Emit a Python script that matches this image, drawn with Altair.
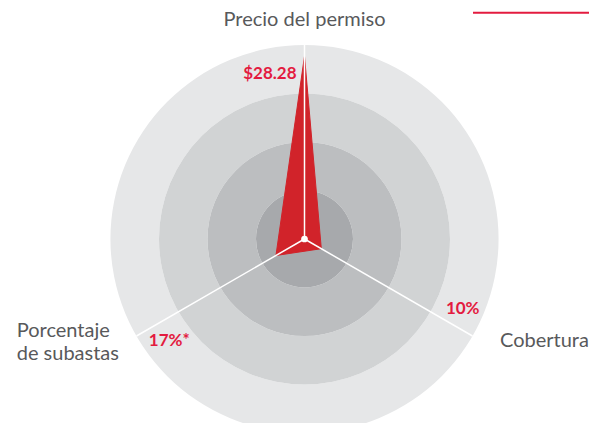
import math
import altair as alt
import pandas as pd

# ---- data ----
axes_names = ["Precio del permiso", "Cobertura", "Porcentaje de subastas"]
axis_angles = [0, 120, 240]
values = [28.28, 10, 17]
value_max = [30, 100, 100]
value_labels = ["$28.28", "10%", "17%*"]
rings = [4, 3, 2, 1]
ring_colors = ["#e6e7e8", "#d1d3d4", "#bcbec0", "#a7a9ac"]
header_text = "SCE DE 3"

# ---- layout ----
R_PX = 48.5
W, H = 581, 415
CX, CY = 296.5, 231
RED = "#e31b3f"
POLY = "#d1232a"
GRAY = "#58595b"
FONT = "Lato"

xs = alt.Scale(domain=[-CX / R_PX, (W - CX) / R_PX], nice=False, zero=False)
ys = alt.Scale(domain=[-(H - CY) / R_PX, CY / R_PX], nice=False, zero=False)
rs = alt.Scale(type="linear", domain=[0, 4], range=[0, 4 * R_PX], zero=True)

ax_df = pd.DataFrame({
    "axis": axes_names, "angle": axis_angles, "value": values,
    "vmax": value_max, "label": value_labels, "idx": [0, 1, 2],
})
ring_df = pd.DataFrame({"ring": rings, "color": ring_colors})

X = lambda f: alt.X(f, scale=xs, axis=None)
Y = lambda f: alt.Y(f, scale=ys, axis=None)

rings_layer = alt.Chart(ring_df).transform_calculate(
    cx="0", cy="0", inner="datum.ring - 1"
).mark_arc(theta=0, theta2=2 * math.pi).encode(
    x=X("cx:Q"), y=Y("cy:Q"),
    radius=alt.Radius("ring:Q", scale=rs),
    radius2="inner:Q",
    color=alt.Color("color:N", scale=None),
)

poly = alt.Chart(ax_df).transform_calculate(
    r="4 * datum.value / datum.vmax",
    px="datum.r * sin(datum.angle * PI / 180)",
    py="datum.r * cos(datum.angle * PI / 180)",
).mark_line(
    interpolate="linear-closed", fill=POLY, stroke=POLY, strokeWidth=1,
    strokeJoin="miter",
).encode(x=X("px:Q"), y=Y("py:Q"), order="idx:Q")

spokes = alt.Chart(ax_df).transform_calculate(
    x0="0", y0="0",
    x1="4 * sin(datum.angle * PI / 180)",
    y1="4 * cos(datum.angle * PI / 180)",
).mark_rule(color="white", strokeWidth=1.5).encode(
    x=X("x0:Q"), y=Y("y0:Q"), x2="x1:Q", y2="y1:Q"
)

dot = alt.Chart(ax_df.head(1)).transform_calculate(x0="0", y0="0").mark_circle(
    color="white", size=45, opacity=1
).encode(x=X("x0:Q"), y=Y("y0:Q"))


def anchored(idx, r, field, **mk):
    return alt.Chart(ax_df).transform_filter(f"datum.idx == {idx}").transform_calculate(
        lx=f"{r} * sin(datum.angle * PI / 180)",
        ly=f"{r} * cos(datum.angle * PI / 180)",
        txt=field,
    ).mark_text(font=FONT, baseline="alphabetic", **mk).encode(
        x=X("lx:Q"), y=Y("ly:Q"), text="txt:N"
    )


vmk = dict(fontWeight="bold", fontSize=17, color=RED)
val0 = anchored(0, 3.3, "datum.label", align="right", dx=-8, dy=0, **vmk)
val1 = anchored(1, 3.6, "datum.label", align="center", dx=7, dy=-12, **vmk)
val2 = anchored(2, 3.6, "datum.label", align="center", dx=16, dy=20, **vmk)

amk = dict(fontSize=20, color=GRAY)
name0 = anchored(0, 4, "datum.axis", align="center", dy=-19, **amk)
name1 = anchored(1, 4, "datum.axis", align="left", dx=27.5, dy=10.7, **amk)
name2 = anchored(2, 4, "replace(datum.axis, 'e de', 'e|de')", align="left",
                 dx=-119.8, dy=0.7, lineHeight=23, lineBreak="|", **amk)

header = alt.Chart(pd.DataFrame({"t": [header_text]})).mark_text(
    font=FONT, fontWeight="bold", fontSize=20, color=RED, align="left",
    baseline="alphabetic"
).encode(x=alt.value(500), y=alt.value(-2), text="t:N")

underline = alt.Chart(pd.DataFrame({"t": [header_text]})).mark_rule(
    color=RED, strokeWidth=2
).encode(x=alt.value(465), x2=alt.value(589), y=alt.value(4.8))

chart = alt.layer(
    rings_layer, poly, spokes, dot, val0, val1, val2, name0, name1, name2,
    header, underline,
).properties(width=W, height=H, padding=0, autosize="none", background="white"
).configure_view(stroke=None)

chart.save("out.html", embed_options={"renderer": "svg", "actions": False})
